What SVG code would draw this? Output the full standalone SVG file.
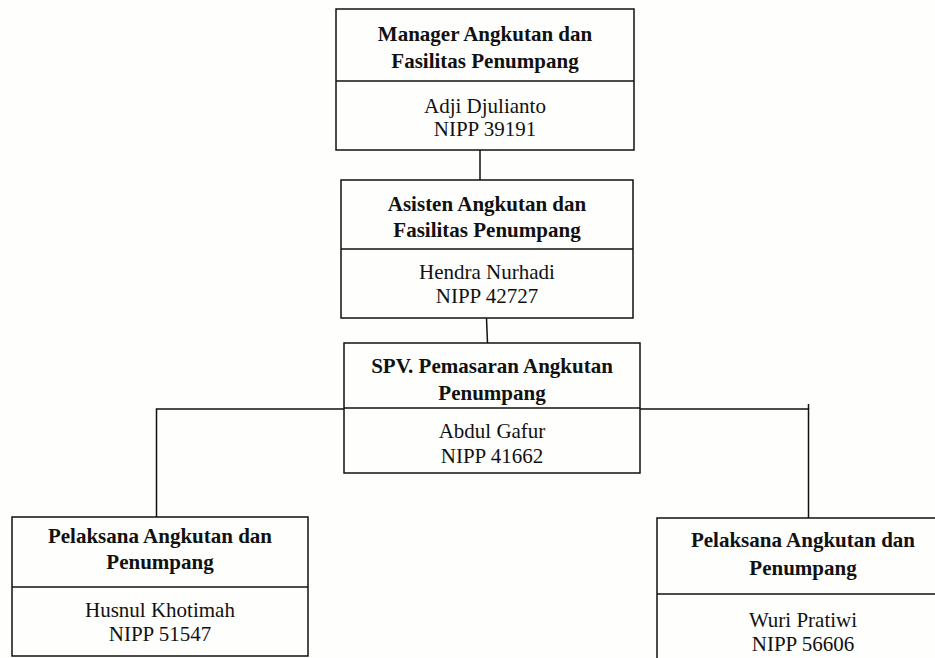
<svg xmlns="http://www.w3.org/2000/svg" width="935" height="658" viewBox="0 0 935 658">
<style>
.box{fill:none;stroke:#111;stroke-width:1.5}
.ln{fill:none;stroke:#111;stroke-width:1.5}
.t{font-family:"Liberation Serif","Times New Roman",serif;font-size:21px;text-anchor:middle;fill:#111}
.b{font-weight:bold}
</style>
<rect width="935" height="658" fill="#fefefc"/>
<g id="connectors">
<line class="ln" x1="480" y1="150" x2="480" y2="180"/>
<line class="ln" x1="486.5" y1="318" x2="487.5" y2="343"/>
<polyline class="ln" points="156.5,517 156.5,409 344,409"/>
<polyline class="ln" points="640,409 808.5,409 808.5,518"/>
<line class="ln" x1="808.5" y1="404" x2="808.5" y2="409"/>
</g>
<g id="manager">
<rect class="box" x="336" y="9" width="298" height="141"/>
<line class="ln" x1="336" y1="81" x2="634" y2="81"/>
<text class="t b" x="485" y="41">Manager Angkutan dan</text>
<text class="t b" x="485" y="68">Fasilitas Penumpang</text>
<text class="t" x="485" y="113">Adji Djulianto</text>
<text class="t" x="485" y="136">NIPP 39191</text>
</g>
<g id="asisten">
<rect class="box" x="341" y="180" width="292" height="138"/>
<line class="ln" x1="341" y1="249" x2="633" y2="249"/>
<text class="t b" x="487" y="211">Asisten Angkutan dan</text>
<text class="t b" x="487" y="237">Fasilitas Penumpang</text>
<text class="t" x="487" y="279">Hendra Nurhadi</text>
<text class="t" x="487" y="303">NIPP 42727</text>
</g>
<g id="spv">
<rect class="box" x="344" y="343" width="296" height="130"/>
<line class="ln" x1="344" y1="408" x2="640" y2="408"/>
<text class="t b" x="492" y="373">SPV. Pemasaran Angkutan</text>
<text class="t b" x="492" y="400">Penumpang</text>
<text class="t" x="492" y="438">Abdul Gafur</text>
<text class="t" x="492" y="463">NIPP 41662</text>
</g>
<g id="pelaksana1">
<rect class="box" x="12" y="517" width="296" height="139"/>
<line class="ln" x1="12" y1="587" x2="308" y2="587"/>
<text class="t b" x="160" y="543">Pelaksana Angkutan dan</text>
<text class="t b" x="160" y="569">Penumpang</text>
<text class="t" x="160" y="617">Husnul Khotimah</text>
<text class="t" x="160" y="641">NIPP 51547</text>
</g>
<g id="pelaksana2">
<rect class="box" x="657" y="518" width="300" height="150"/>
<line class="ln" x1="657" y1="594" x2="957" y2="594"/>
<text class="t b" x="803" y="547">Pelaksana Angkutan dan</text>
<text class="t b" x="803" y="575">Penumpang</text>
<text class="t" x="803" y="627">Wuri Pratiwi</text>
<text class="t" x="803" y="651">NIPP 56606</text>
</g>
</svg>
